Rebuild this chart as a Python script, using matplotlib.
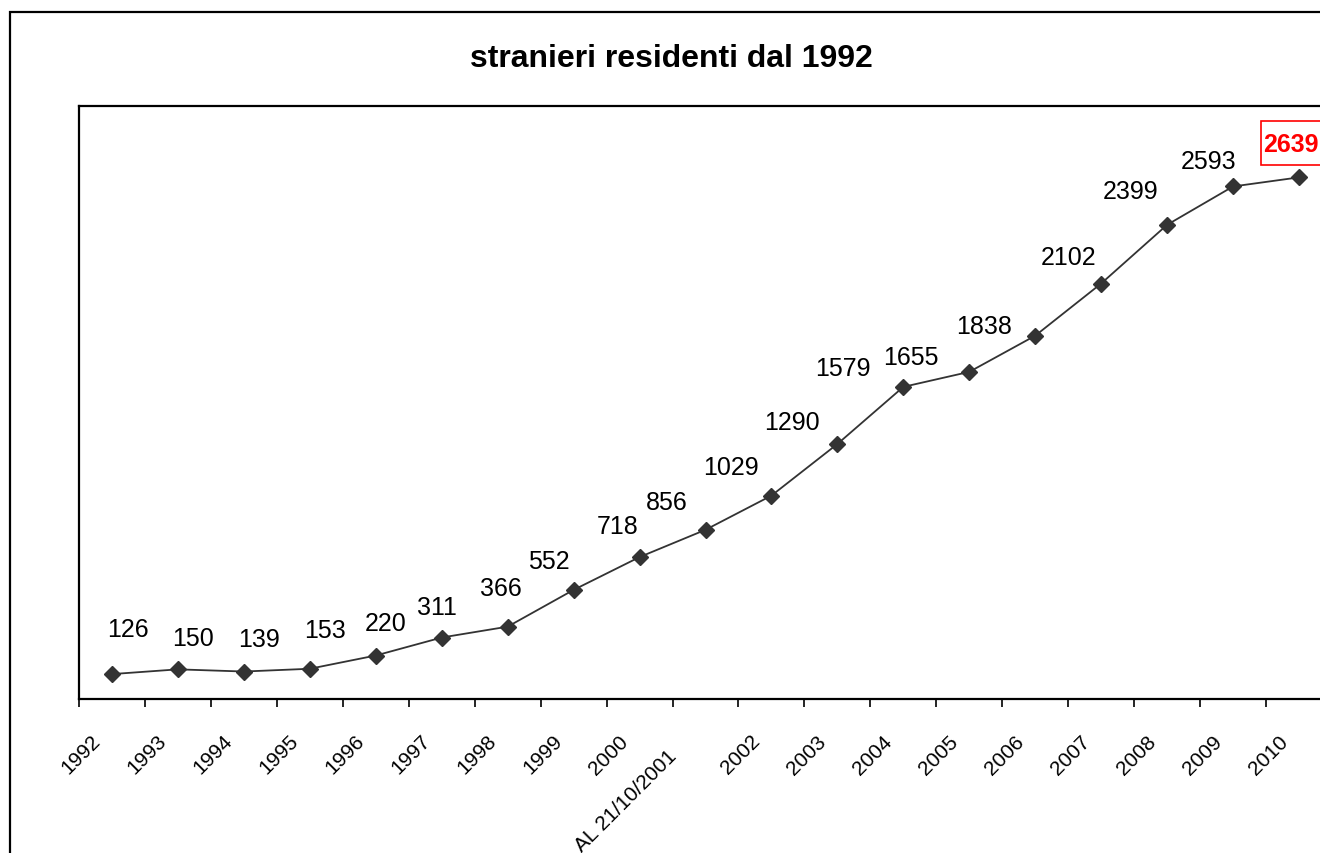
import matplotlib
matplotlib.use('Agg')
import matplotlib.pyplot as plt
from matplotlib import patches, transforms

plt.rcParams['font.family'] = ['Liberation Sans', 'DejaVu Sans']

# data
years = ['1992', '1993', '1994', '1995', '1996', '1997', '1998', '1999', '2000',
         'AL 21/10/2001', '2002', '2003', '2004', '2005', '2006', '2007', '2008',
         '2009', '2010']
residents = [126, 150, 139, 153, 220, 311, 366, 552, 718, 856, 1029, 1290,
             1579, 1655, 1838, 2102, 2399, 2593, 2639]

# label placement (pixel offsets from each point), hand tuned like the original
label_dx = [16, 15, 15, 15, 10, -5, -7, -25, -22, -39, -41, -45, -60, -58, -51, -33, -37, -25, -8]
label_dy = [45, 31, 33, 39, 33, 31, 39, 29, 31, 28, 29, 22, 19, 15, 10, 27, 34, 25, 33]

W, H = 1320, 854
fig = plt.figure(figsize=(W / 100, H / 100), dpi=100)
fig.patch.set_facecolor('white')

# outer chart frame (cropped on the right and bottom like the source)
frame = patches.Rectangle((10 / W, -0.1), 1.2, 1.1 - 13 / H, transform=fig.transFigure,
                          fill=False, edgecolor='black', linewidth=1.6, clip_on=False)
fig.patches.append(frame)

fig.text(671 / W, 1 - 59 / H, 'stranieri residenti dal 1992', ha='center', va='center',
         fontsize=23, fontweight='bold')

ax = fig.add_axes([79 / W, 1 - 700 / H, (1332 - 79) / W, (700 - 107) / H])
for s in ax.spines.values():
    s.set_linewidth(1.6)
    s.set_color('black')

n = len(years)
x = [i + 0.5 for i in range(n)]
ax.plot(x, residents, color='#333333', linewidth=1.3, marker='D', markersize=8.5,
        markerfacecolor='#333333', markeredgecolor='#333333', clip_on=False)

ax.set_xlim(0, n)
ax.set_ylim(0, 3000)
ax.set_yticks([])
ax.set_xticks(range(n))
ax.set_xticklabels([])
ax.tick_params(axis='x', direction='out', length=6, width=1.2, color='black')

# category labels, rotated 45 degrees
trans = transforms.blended_transform_factory(ax.transData, ax.transAxes)
for i, lab in enumerate(years):
    dx, dy = (-39, -47) if lab.startswith('AL') else (-21, -32)
    ax.annotate(lab, (x[i], 0), xycoords=trans, xytext=(dx, dy), textcoords='offset pixels',
                rotation=45, rotation_mode='anchor', ha='right', va='top',
                fontsize=15, annotation_clip=False)

# value labels
for i, v in enumerate(residents):
    last = i == n - 1
    ax.annotate(str(v), (x[i], v), xytext=(label_dx[i], label_dy[i]),
                textcoords='offset pixels', ha='center', va='center',
                fontsize=18, fontweight='bold' if last else 'normal',
                color='red' if last else 'black', annotation_clip=False, zorder=5)

# red frame around the latest value
px, py = ax.transData.transform((x[-1], residents[-1]))
box = patches.Rectangle((px - 38, py + 12), 62, 44, transform=transforms.IdentityTransform(),
                        facecolor='white', edgecolor='red', linewidth=1.2, zorder=4,
                        clip_on=False)
ax.add_patch(box)

plt.savefig('out.png', dpi=100)
